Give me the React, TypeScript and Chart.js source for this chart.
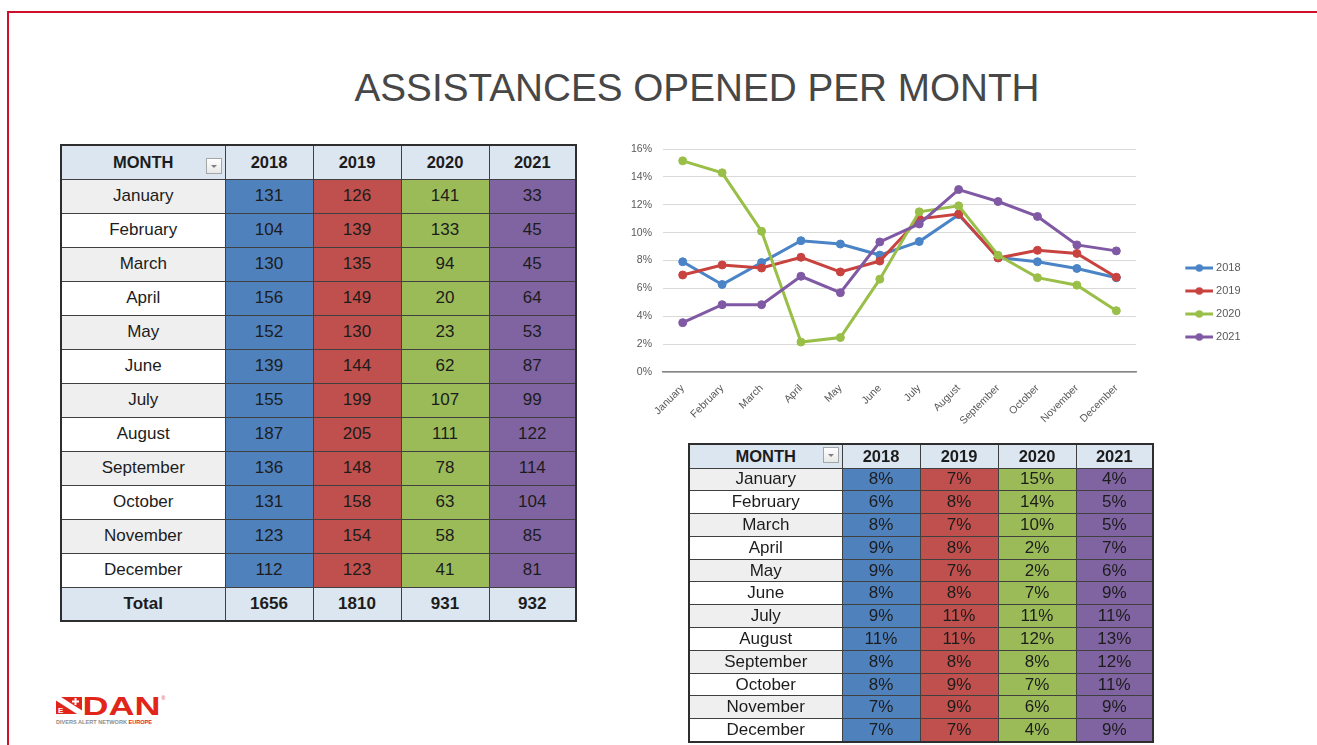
import React, { useEffect, useRef } from 'react';
import { Chart, registerables } from 'chart.js';

Chart.register(...registerables);

const months = ['January', 'February', 'March', 'April', 'May', 'June', 'July', 'August', 'September', 'October', 'November', 'December'];
const years = ['2018', '2019', '2020', '2021'];

const counts2018 = [131, 104, 130, 156, 152, 139, 155, 187, 136, 131, 123, 112];
const counts2019 = [126, 139, 135, 149, 130, 144, 199, 205, 148, 158, 154, 123];
const counts2020 = [141, 133, 94, 20, 23, 62, 107, 111, 78, 63, 58, 41];
const counts2021 = [33, 45, 45, 64, 53, 87, 99, 122, 114, 104, 85, 81];
const totals = [1656, 1810, 931, 932];

// Monthly share (%) as plotted in the line chart
const share2018 = [7.91, 6.28, 7.85, 9.42, 9.18, 8.39, 9.36, 11.29, 8.21, 7.91, 7.43, 6.76];
const share2019 = [6.96, 7.68, 7.46, 8.23, 7.18, 7.96, 10.99, 11.33, 8.18, 8.73, 8.51, 6.8];
const share2020 = [15.15, 14.29, 10.1, 2.15, 2.47, 6.66, 11.49, 11.92, 8.38, 6.77, 6.23, 4.4];
const share2021 = [3.54, 4.83, 4.83, 6.87, 5.69, 9.33, 10.62, 13.09, 12.23, 11.16, 9.12, 8.69];

// Rounded shares shown in the small table
const pct2018 = [8, 6, 8, 9, 9, 8, 9, 11, 8, 8, 7, 7];
const pct2019 = [7, 8, 7, 8, 7, 8, 11, 11, 8, 9, 9, 7];
const pct2020 = [15, 14, 10, 2, 2, 7, 11, 12, 8, 7, 6, 4];
const pct2021 = [4, 5, 5, 7, 6, 9, 11, 13, 12, 11, 9, 9];

const yTickMax = 16;
const yTickStep = 2;

const cellColors = ['#4F81BD', '#C0504D', '#9BBB59', '#8064A2'];
const lineColors = ['#4A84C6', '#C8433F', '#99BF48', '#8059A4'];

const FONT = '"Liberation Sans", Arial, sans-serif';

function makeLegendImage(color: string): HTMLCanvasElement {
  const c = document.createElement('canvas');
  c.width = 68;
  c.height = 10;
  const ctx = c.getContext('2d')!;
  ctx.strokeStyle = color;
  ctx.lineWidth = 3;
  ctx.beginPath();
  ctx.moveTo(40, 5);
  ctx.lineTo(68, 5);
  ctx.stroke();
  ctx.fillStyle = color;
  ctx.beginPath();
  ctx.arc(54, 5, 3.8, 0, Math.PI * 2);
  ctx.fill();
  return c;
}

function LineChart() {
  const ref = useRef<HTMLCanvasElement>(null);
  useEffect(() => {
    const series = [share2018, share2019, share2020, share2021];
    const imgs = lineColors.map(makeLegendImage);
    const chart = new Chart(ref.current!, {
      type: 'line',
      data: {
        labels: months,
        datasets: years.map((y, i) => ({
          label: y,
          data: series[i],
          borderColor: lineColors[i],
          backgroundColor: lineColors[i],
          pointBackgroundColor: lineColors[i],
          pointBorderColor: lineColors[i],
          borderWidth: 3,
          pointRadius: 4,
          pointBorderWidth: 1,
          tension: 0,
          order: 4 - i,
        })),
      },
      options: {
        animation: false,
        responsive: true,
        maintainAspectRatio: false,
        layout: { padding: { top: 18, bottom: 15, left: 0, right: 11.5 } },
        plugins: {
          tooltip: { enabled: false },
          legend: {
            position: 'right',
            labels: {
              usePointStyle: true,
              pointStyleWidth: 62.5,
              padding: 12,
              color: '#595959',
              font: { size: 11, family: FONT },
              sort: (a: any, b: any) => a.datasetIndex - b.datasetIndex,
              generateLabels: (ch: any) =>
                Chart.defaults.plugins.legend.labels.generateLabels(ch).map((l: any) => ({
                  ...l,
                  pointStyle: imgs[l.datasetIndex],
                })),
            },
          },
        },
        scales: {
          x: {
            offset: true,
            grid: { display: false },
            border: { color: '#868686', width: 1.5 },
            ticks: {
              minRotation: 45,
              maxRotation: 45,
              autoSkip: false,
              color: '#595959',
              font: { size: 10.5, family: FONT },
              padding: 2,
            },
            afterFit: (s: any) => {
              s.height = 84;
            },
          },
          y: {
            min: 0,
            max: yTickMax,
            ticks: {
              stepSize: yTickStep,
              callback: (v: any) => v + '%',
              color: '#595959',
              font: { size: 10.5, family: FONT },
              padding: 11,
            },
            grid: { color: '#D9D9D9', drawTicks: false },
            border: { display: false },
            afterFit: (s: any) => {
              s.width = 51;
            },
          },
        },
      } as any,
    });
    return () => chart.destroy();
  }, []);
  return (
    <div style={{ position: 'absolute', left: 612, top: 131, width: 650, height: 340 }}>
      <canvas ref={ref} />
    </div>
  );
}

function FilterIcon({ left, top }: { left: number; top: number }) {
  return (
    <div
      style={{
        position: 'absolute',
        left,
        top,
        width: 16,
        height: 16,
        border: '1px solid #A6A6A6',
        background: 'linear-gradient(#FFFFFF, #E8E8E8)',
        boxSizing: 'border-box',
      }}
    >
      <div
        style={{
          position: 'absolute',
          left: 4,
          top: 6,
          width: 0,
          height: 0,
          borderLeft: '3px solid transparent',
          borderRight: '3px solid transparent',
          borderTop: '3px solid #7F7F7F',
        }}
      />
    </div>
  );
}

const tdBase: React.CSSProperties = {
  border: '1px solid #404040',
  textAlign: 'center',
  verticalAlign: 'middle',
  padding: 0,
  color: '#1C1C1C',
  whiteSpace: 'nowrap',
  overflow: 'hidden',
};

function CountTable() {
  const cols = [counts2018, counts2019, counts2020, counts2021];
  const widths = [164, 88, 88, 88, 87];
  return (
    <table
      style={{
        position: 'absolute',
        left: 60,
        top: 144,
        width: 516,
        borderCollapse: 'collapse',
        tableLayout: 'fixed',
        border: '2px solid #2E2E2E',
        fontFamily: FONT,
        fontSize: 17,
      }}
    >
      <colgroup>
        {widths.map((w, i) => (
          <col key={i} style={{ width: w }} />
        ))}
      </colgroup>
      <tbody>
        <tr style={{ height: 34 }}>
          <td style={{ ...tdBase, background: '#DCE6F1', fontWeight: 'bold', fontSize: 16.5 }}>MONTH</td>
          {years.map((y) => (
            <td key={y} style={{ ...tdBase, background: '#DCE6F1', fontWeight: 'bold', fontSize: 16.5 }}>
              {y}
            </td>
          ))}
        </tr>
        {months.map((m, r) => (
          <tr key={m} style={{ height: 34 }}>
            <td style={{ ...tdBase, background: r % 2 === 0 ? '#EFEFEF' : '#FFFFFF' }}>{m}</td>
            {cols.map((c, i) => (
              <td key={i} style={{ ...tdBase, background: cellColors[i] }}>
                {c[r]}
              </td>
            ))}
          </tr>
        ))}
        <tr style={{ height: 34 }}>
          <td style={{ ...tdBase, background: '#DCE6F1', fontWeight: 'bold' }}>Total</td>
          {totals.map((t, i) => (
            <td key={i} style={{ ...tdBase, background: '#DCE6F1', fontWeight: 'bold' }}>
              {t}
            </td>
          ))}
        </tr>
      </tbody>
    </table>
  );
}

function PctTable() {
  const cols = [pct2018, pct2019, pct2020, pct2021];
  const widths = [153, 78, 78, 78, 77];
  return (
    <table
      style={{
        position: 'absolute',
        left: 688,
        top: 443,
        width: 465,
        borderCollapse: 'collapse',
        tableLayout: 'fixed',
        border: '2px solid #2E2E2E',
        fontFamily: FONT,
        fontSize: 17,
        lineHeight: '18px',
      }}
    >
      <colgroup>
        {widths.map((w, i) => (
          <col key={i} style={{ width: w }} />
        ))}
      </colgroup>
      <tbody>
        <tr style={{ height: 24 }}>
          <td style={{ ...tdBase, background: '#DCE6F1', fontWeight: 'bold', fontSize: 16.5 }}>MONTH</td>
          {years.map((y) => (
            <td key={y} style={{ ...tdBase, background: '#DCE6F1', fontWeight: 'bold', fontSize: 16.5 }}>
              {y}
            </td>
          ))}
        </tr>
        {months.map((m, r) => (
          <tr key={m} style={{ height: 22.8 }}>
            <td style={{ ...tdBase, background: r % 2 === 0 ? '#EFEFEF' : '#FFFFFF' }}>{m}</td>
            {cols.map((c, i) => (
              <td key={i} style={{ ...tdBase, background: cellColors[i] }}>
                {c[r]}%
              </td>
            ))}
          </tr>
        ))}
      </tbody>
    </table>
  );
}

function Logo() {
  return (
    <svg style={{ position: 'absolute', left: 55, top: 692 }} width={112} height={36} viewBox="0 0 112 36">
      <rect x={1} y={5} width={26} height={17} fill="#E1251B" />
      <polygon points="1,5 6,5 27,18.5 27,22 22,22 1,8.5" fill="#FFFFFF" />
      <rect x={17} y={8.5} width={7} height={2} fill="#FFFFFF" />
      <rect x={19.5} y={6} width={2} height={7} fill="#FFFFFF" />
      <text x={3} y={20.5} fontSize={8} fontWeight="bold" fill="#FFFFFF" fontFamily={FONT}>
        E
      </text>
      <text
        x={27.5}
        y={23}
        fontSize={26}
        fontWeight="bold"
        fill="#E1251B"
        fontFamily={FONT}
        textLength={78}
        lengthAdjust="spacingAndGlyphs"
      >
        DAN
      </text>
      <text x={106.5} y={8} fontSize={5} fill="#E1251B" fontFamily={FONT}>
        ®
      </text>
      <text x={1} y={31.5} fontSize={4.6} fontWeight="bold" fontFamily={FONT} textLength={96} lengthAdjust="spacingAndGlyphs">
        <tspan fill="#8C8C8C">DIVERS ALERT NETWORK </tspan>
        <tspan fill="#E1251B">EUROPE</tspan>
      </text>
    </svg>
  );
}

export default function App() {
  useEffect(() => {
    document.body.style.margin = '0';
  }, []);
  return (
    <div
      style={{
        position: 'absolute',
        left: 0,
        top: 0,
        width: 1317,
        height: 745,
        background: '#FFFFFF',
        overflow: 'hidden',
        fontFamily: FONT,
      }}
    >
      <div
        style={{
          position: 'absolute',
          left: 7,
          top: 11,
          width: 1400,
          height: 800,
          borderLeft: '2px solid #D0102B',
          borderTop: '2px solid #D0102B',
        }}
      />
      <div
        style={{
          position: 'absolute',
          left: 0,
          width: 1394,
          top: 69,
          textAlign: 'center',
          fontSize: 38.7,
          lineHeight: '38px',
          color: '#474747',
          whiteSpace: 'nowrap',
        }}
      >
        ASSISTANCES OPENED PER MONTH
      </div>
      <CountTable />
      <FilterIcon left={206} top={158} />
      <LineChart />
      <PctTable />
      <FilterIcon left={823} top={447} />
      <Logo />
    </div>
  );
}
